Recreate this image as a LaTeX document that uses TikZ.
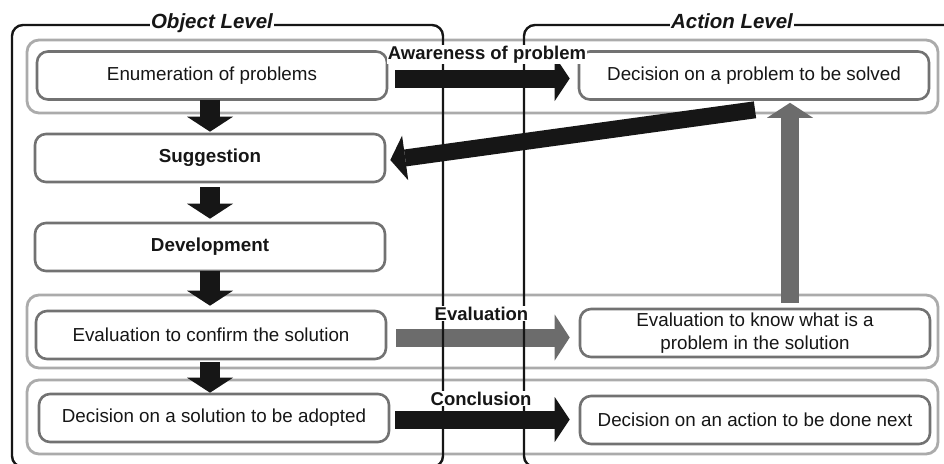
\documentclass[tikz,border=0pt]{standalone}
\usepackage{fontspec}
\setmainfont{Liberation Sans}
\usetikzlibrary{arrows.meta}
\definecolor{bandgray}{HTML}{ABABAB}
\definecolor{boxgray}{HTML}{727272}
\definecolor{arrgray}{HTML}{6C6C6C}
\definecolor{ink}{HTML}{161616}
\begin{document}
\begin{tikzpicture}[x=1pt,y=-1pt,
  band/.style={draw=bandgray,line width=2.8pt,rounded corners=12pt},
  stepbox/.style={draw=boxgray,line width=2.6pt,rounded corners=11pt,fill=white,
    minimum width=350pt,minimum height=48pt,inner sep=0pt,align=center,text=ink,
    font=\fontsize{18.8}{22.5}\selectfont},
  frame/.style={draw=ink,line width=2.4pt,rounded corners=11pt},
  title/.style={fill=white,inner sep=1.5pt,text=ink,anchor=base,
    font=\fontsize{20.5}{24}\selectfont\bfseries\itshape},
  lab/.style={fill=white,inner sep=1pt,text=ink,anchor=base,
    font=\fontsize{18.5}{22}\selectfont\bfseries},
  fatarrow/.style={draw=ink,line width=18pt,
    -{Triangle[length=15pt,width=45pt,line width=0pt]}},
  grayarrow/.style={draw=arrgray,line width=18pt,
    -{Triangle[length=15pt,width=46pt,line width=0pt]}},
  downarrow/.style={draw=ink,line width=20pt,
    -{Triangle[length=15pt,width=46pt,line width=0pt]}}
]
\useasboundingbox (0,0) rectangle (944,463);
\fill[white] (0,0) rectangle (944,463);

% bands
\draw[band] (27,40) rectangle (938,113);
\draw[band] (27,295) rectangle (938,368);
\draw[band] (27,380) rectangle (938,454);

% object level boxes
\node[stepbox] (enum)  at (212,75.5) {Enumeration of problems};
\node[stepbox] (sugg)  at (210,158)  {\bfseries Suggestion};
\node[stepbox] (dev)   at (210,247)  {\bfseries Development};
\node[stepbox] (evalc) at (211,335)  {Evaluation to confirm the solution};
\node[stepbox] (decs)  at (214,418)  {Decision on a solution to be adopted};

% action level boxes
\node[stepbox] (decp)  at (754,75.5) {Decision on a problem to be solved};
\node[stepbox] (evalk) at (755,333)  {Evaluation to know what is a\\problem in the solution};
\node[stepbox] (deca)  at (755,420)  {Decision on an action to be done next};

% down arrows (kept vertical at x = 210)
\draw[downarrow] ([xshift=-2pt,yshift=1pt]enum.south) -- ([yshift=1pt]sugg.north);
\draw[downarrow] ([yshift=-4pt]sugg.south) -- ([yshift=3pt]dev.north);
\draw[downarrow] ([yshift=1pt]dev.south) -- ([yshift=4pt]evalc.north -| dev.south);
\draw[downarrow] ([xshift=-1pt,yshift=-2pt]evalc.south) -- ([xshift=-4pt]decs.north);

% horizontal arrows
\draw[fatarrow] ([xshift=7pt,yshift=-3pt]enum.east) -- ([xshift=-8pt,yshift=-3pt]decp.west);
\draw[grayarrow] ([xshift=9pt,yshift=-2.5pt]evalc.east) -- ([xshift=-9pt,yshift=-4.5pt]evalk.west);
\draw[fatarrow] ([xshift=5pt,yshift=-1.5pt]decs.east) -- ([xshift=-9pt,yshift=0.5pt]deca.west);

% feedback arrows
\draw[fatarrow,line width=17pt] ([xshift=1pt,yshift=-9pt]decp.south) -- ([xshift=4pt,yshift=-2pt]sugg.east);
\draw[grayarrow] ([xshift=35pt,yshift=5pt]evalk.north) -- ([xshift=36pt,yshift=-2pt]decp.south);

% level frames
\draw[frame] (12,25) rectangle (443,467);
\draw[frame] (960,25) -- (524,25) -- (524,467) -- (960,467);

% titles
\node[title] (objt) at (212,28) {Object Level};
\node[title] (actt) at (732,28) {Action Level};

% relation labels
\node[lab] (aware) at (487,59) {Awareness of problem};
\node[lab] (evall) at (481.5,320) {Evaluation};
\node[lab] (concl) at (481,405) {Conclusion};
\end{tikzpicture}
\end{document}
